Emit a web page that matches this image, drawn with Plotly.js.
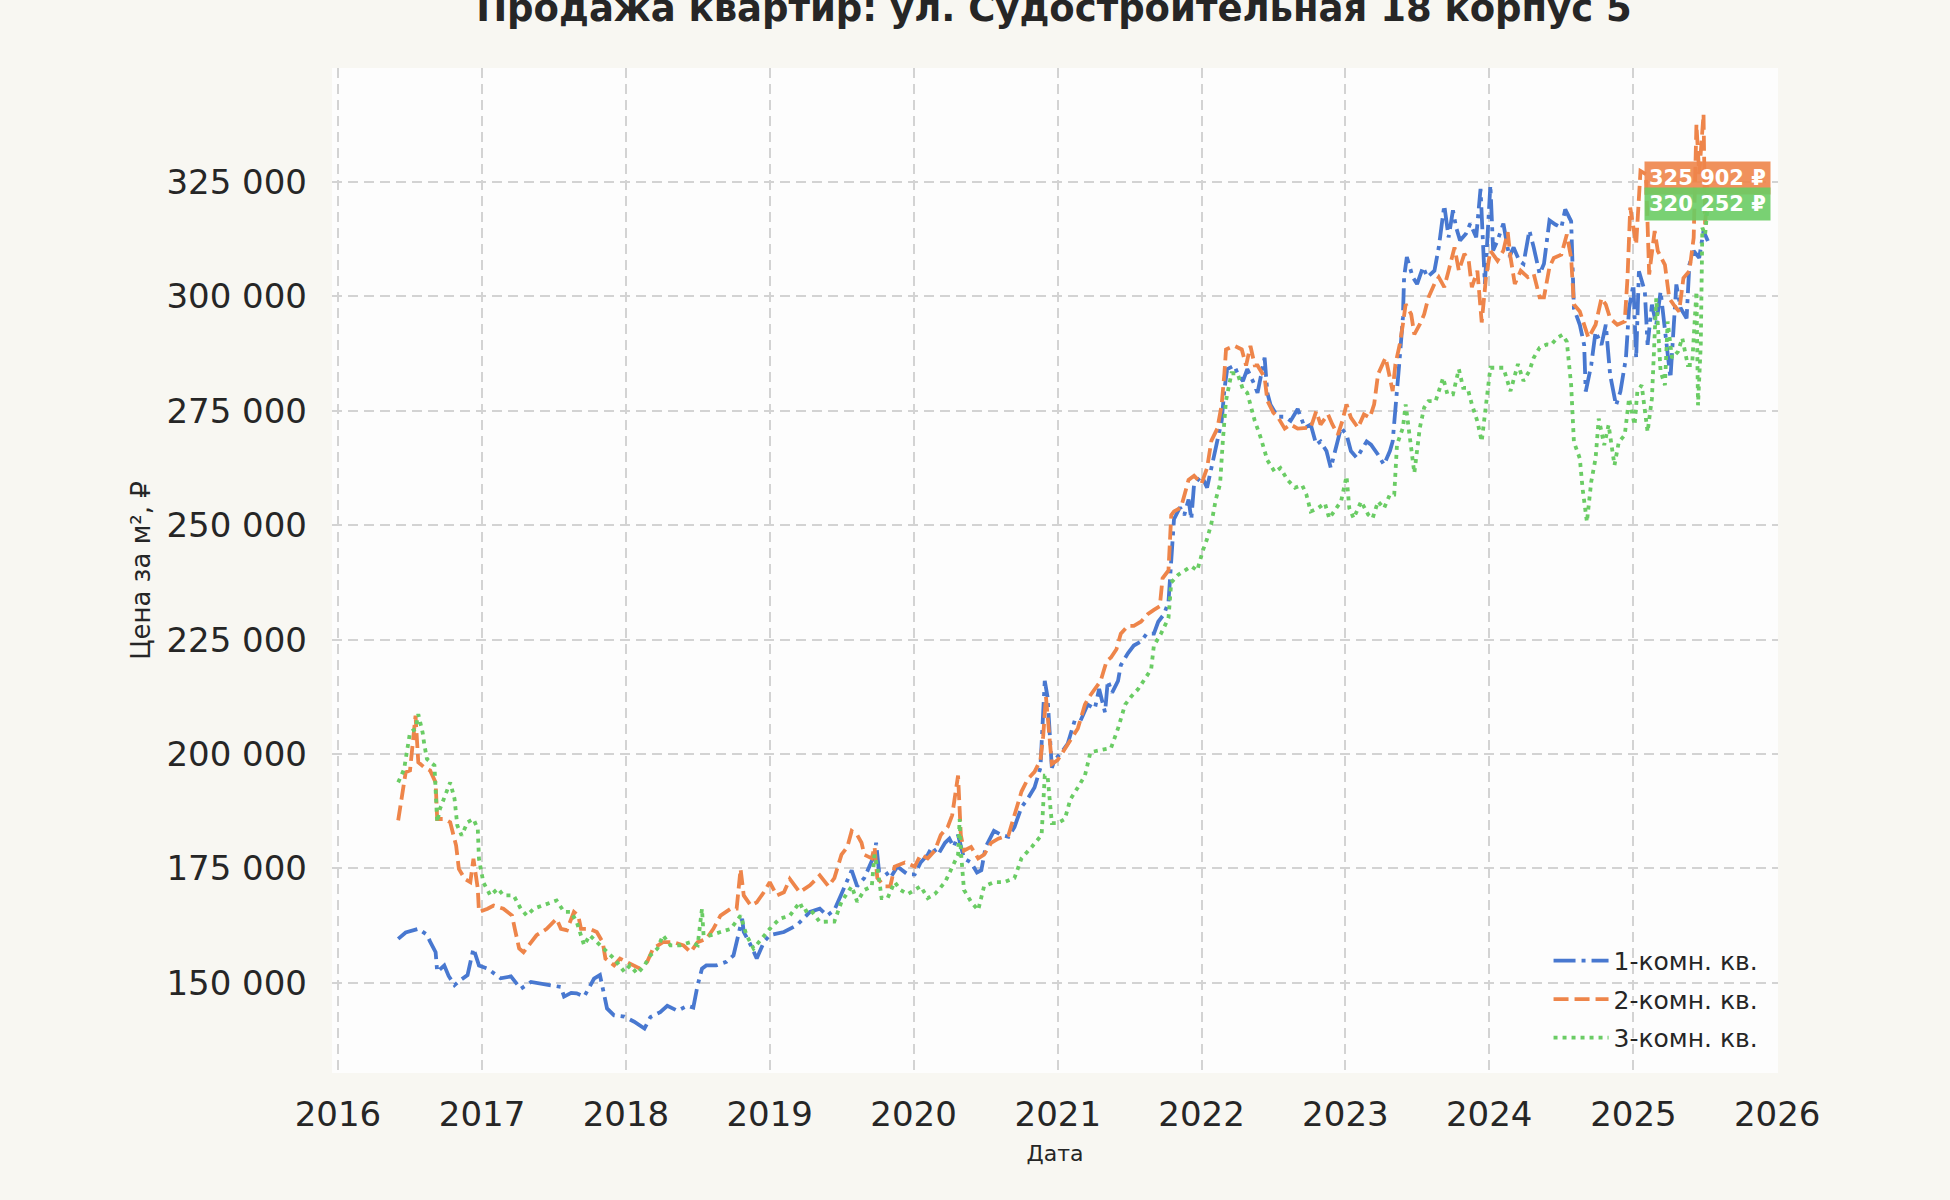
<!DOCTYPE html>
<html>
<head>
<meta charset="utf-8">
<script src="https://cdn.plot.ly/plotly-3.0.1.min.js"></script>
<style>
  html, body { margin: 0; padding: 0; background: #f8f7f2; }
  #chart { width: 1950px; height: 1200px; }
</style>
</head>
<body>
<div id="chart"></div>
<script>
// price per m2, decimal years
var years1 = [2016.42,2016.47,2016.56,2016.62,2016.64,2016.68,2016.69,2016.74,2016.77,2016.81,
  2016.85,2016.90,2016.94,2016.98,2017.04,2017.13,2017.20,2017.27,2017.34,2017.41,
  2017.48,2017.55,2017.57,2017.62,2017.66,2017.71,2017.78,2017.82,2017.85,2017.87,
  2017.92,2017.99,2018.06,2018.13,2018.17,2018.24,2018.29,2018.36,2018.43,2018.47,
  2018.50,2018.53,2018.56,2018.63,2018.70,2018.75,2018.81,2018.82,2018.87,2018.91,
  2018.96,2019.00,2019.10,2019.19,2019.28,2019.35,2019.40,
  2019.45,2019.50,2019.57,2019.61,2019.66,2019.73,2019.74,2019.76,2019.80,2019.84,
  2019.89,2019.96,2020.01,2020.05,2020.10,2020.13,2020.17,2020.22,2020.25,2020.28,
  2020.31,2020.35,2020.40,2020.44,2020.47,2020.50,2020.56,2020.61,2020.66,2020.70,
  2020.75,2020.79,2020.84,2020.88,2020.91,2020.93,2020.96,2020.98,2021.03,2021.07,
  2021.12,2021.16,2021.21,2021.26,2021.29,2021.33,2021.35,2021.38,2021.42,2021.44,
  2021.49,2021.53,2021.58,2021.62,2021.67,2021.70,2021.74,2021.77,2021.79,2021.81,
  2021.85,2021.88,2021.91,2021.93,2021.95,2022.00,2022.04,2022.09,2022.14,2022.16,
  2022.18,2022.23,2022.25,2022.29,2022.32,2022.37,2022.39,2022.44,2022.46,2022.48,
  2022.53,2022.58,2022.62,2022.67,
  2022.72,2022.76,2022.80,2022.83,2022.87,2022.90,2022.94,2022.97,2023.01,2023.04,
  2023.08,2023.11,2023.15,2023.18,2023.23,2023.27,2023.31,2023.33,2023.35,2023.38,
  2023.40,2023.41,2023.43,2023.47,2023.50,2023.54,2023.57,2023.62,2023.65,2023.69,
  2023.72,2023.75,2023.77,2023.80,2023.84,2023.87,2023.91,2023.94,2023.97,2023.99,
  2024.01,2024.03,2024.06,2024.10,2024.14,2024.17,2024.21,2024.24,2024.28,2024.31,
  2024.35,2024.38,2024.42,
  2024.46,2024.50,2024.53,2024.57,2024.59,2024.63,2024.66,2024.67,2024.71,2024.74,
  2024.78,2024.81,2024.84,2024.88,2024.91,2024.95,2024.97,2025.00,2025.02,2025.04,
  2025.08,2025.10,2025.13,2025.16,2025.19,2025.23,2025.26,2025.30,2025.33,2025.37,
  2025.39,2025.42,2025.46,2025.49,2025.52];
var price1 = [159600,161000,161800,160500,159000,156700,152400,153800,151500,149500,
  150600,151700,157500,153800,153100,151000,151400,148700,150200,149800,
  149500,149100,147000,147800,147700,147000,150900,151700,147300,144400,
  142900,142600,141500,140000,142500,143600,145000,143900,145000,144600,
  149500,153100,153800,153800,154600,156000,164000,161100,158200,155300,
  158900,160400,161100,162600,165500,166200,164700,
  165900,169400,174600,171100,172900,178000,180600,174600,174600,172900,
  175400,173700,173700,176300,178000,179700,178000,180600,181500,179700,
  182300,177200,176300,174100,174600,179700,183200,182300,181900,184000,
  188400,190100,192700,197000,216000,212500,197000,198700,200400,202200,
  207300,207300,210800,209900,214200,209100,216000,213400,216000,219400,
  222000,223700,224600,226300,226300,228900,230600,233200,241800,251300,
  253900,252200,255600,251300,259000,260800,258200,265100,272800,279700,
  284100,284900,283200,281500,284100,280600,278900,286600,278900,276300,
  273700,273700,272800,275400,
  271300,272000,267600,268300,266200,262500,267600,271300,269800,266200,
  264700,266200,268300,267600,265400,263200,266200,268300,276400,286600,
  295400,304200,308600,304200,302700,306400,304200,305600,310700,319900,
  312900,318800,315100,312200,313700,315900,312900,323500,302700,312900,
  324300,310000,312200,315900,308600,310700,307800,307100,314400,310700,
  304900,307100,316600,
  315700,315000,319000,316400,297400,293800,289400,279200,285000,292300,
  289400,293800,282800,276200,279200,286500,297400,302600,286500,305500,
  301100,289400,298200,293800,301100,290900,282100,302600,297400,295200,
  306900,309900,308400,314300,312100];

var years2 = [2016.42,2016.45,2016.47,2016.50,2016.54,2016.56,2016.60,2016.64,2016.68,2016.69,
  2016.74,2016.78,2016.82,2016.84,2016.88,2016.92,2016.94,2016.97,2016.98,2017.04,
  2017.08,2017.15,2017.21,2017.23,2017.26,2017.29,2017.34,2017.38,2017.45,2017.52,
  2017.55,2017.59,2017.64,2017.67,2017.69,2017.75,2017.80,2017.84,2017.86,2017.92,
  2017.96,2018.01,2018.06,2018.10,2018.15,2018.19,2018.26,2018.33,2018.40,2018.45,
  2018.50,2018.56,2018.61,2018.66,2018.73,2018.77,2018.80,2018.82,2018.87,2018.91,
  2018.96,2019.00,2019.05,2019.10,2019.14,2019.21,2019.28,2019.35,
  2019.41,2019.45,2019.50,2019.54,2019.57,2019.61,2019.64,2019.66,2019.71,2019.73,
  2019.75,2019.80,2019.84,2019.87,2019.94,2020.01,2020.05,2020.10,2020.15,2020.19,
  2020.24,2020.27,2020.31,2020.33,2020.35,2020.40,2020.45,2020.49,2020.54,2020.59,
  2020.66,2020.70,2020.75,2020.79,2020.84,2020.88,2020.90,2020.92,2020.94,2020.96,
  2021.00,2021.05,2021.09,2021.14,2021.19,2021.22,2021.26,2021.30,2021.34,2021.37,
  2021.41,2021.44,2021.49,2021.53,2021.58,2021.63,2021.67,2021.71,2021.73,2021.77,
  2021.79,2021.81,2021.86,2021.91,2021.95,2022.00,2022.04,2022.07,2022.11,2022.14,
  2022.16,2022.17,2022.23,2022.28,2022.31,2022.34,2022.37,2022.39,2022.44,2022.46,
  2022.50,2022.53,2022.58,2022.62,2022.67,
  2022.72,2022.76,2022.80,2022.83,2022.88,2022.91,2022.95,2022.98,2023.01,2023.04,
  2023.09,2023.13,2023.17,2023.20,2023.23,2023.26,2023.28,2023.31,2023.33,2023.35,
  2023.38,2023.40,2023.42,2023.46,2023.48,2023.52,2023.55,2023.58,2023.62,2023.65,
  2023.69,2023.72,2023.76,2023.79,2023.83,2023.86,2023.88,2023.92,2023.95,2023.98,
  2024.01,2024.06,2024.10,2024.13,2024.15,2024.18,2024.22,2024.27,2024.31,2024.35,
  2024.38,2024.42,
  2024.45,2024.50,2024.54,2024.57,2024.59,2024.63,2024.66,2024.69,2024.74,2024.78,
  2024.81,2024.84,2024.89,2024.94,2024.96,2024.98,2025.02,2025.05,2025.09,2025.11,
  2025.15,2025.17,2025.22,2025.25,2025.28,2025.32,2025.35,2025.39,2025.42,2025.44,
  2025.46,2025.49,2025.50,2025.52];
var price2 = [185500,192400,196000,196400,208400,198200,197100,196400,193800,185800,
  185800,185100,180000,174900,172700,172000,177100,170600,165500,166200,
  166900,166200,164700,161800,157500,156700,158900,160400,161800,164000,
  161800,161500,165500,164700,161800,161800,161100,158900,155300,153800,
  155300,154600,153800,153100,154600,157500,158900,158900,158200,156700,
  158900,159600,161800,164700,166200,166200,174900,169100,166900,167600,
  169800,172000,169100,169800,172700,169800,171300,173500,
  171100,172900,178000,179700,183200,182300,180600,178000,177200,179700,
  172900,171100,171100,175400,176300,175400,178000,177200,178900,182300,
  184100,186600,195300,182300,178900,179700,177200,178000,180600,181500,
  182300,186600,191800,194400,196100,198700,203900,212500,203900,197800,
  198700,201300,203000,205600,210800,212500,214200,216000,220300,221100,
  222900,226300,228000,228000,228900,230600,231500,232300,238400,240100,
  252200,253000,253900,259900,260800,259100,262500,268500,271100,276300,
  283200,288400,289200,288400,284900,289200,284900,284900,282300,277200,
  274600,273700,271100,272000,271100,
  271300,271300,274900,272000,274200,272000,269800,272700,276400,273500,
  271300,274200,273500,276400,283000,285200,286600,282200,279300,285200,
  289500,293900,298300,296100,291700,293900,296100,299800,302700,304200,
  302000,305600,310700,305600,309300,307800,302000,305600,294300,304200,
  310000,307800,310000,314000,308600,302700,305600,304200,304900,299800,
  299800,306400,
  308400,309100,313500,308400,298200,296700,293800,290900,293800,299600,
  298200,295200,293800,294500,304000,319400,311300,327400,326700,304800,
  314300,309900,306900,299600,298200,296700,304000,305500,312800,337600,
  326700,339800,315700,325902];

var years3 = [2016.42,2016.46,2016.50,2016.54,2016.56,2016.59,2016.60,2016.62,2016.67,2016.69,
  2016.71,2016.75,2016.78,2016.81,2016.83,2016.86,2016.90,2016.94,2016.97,2016.98,
  2017.01,2017.06,2017.11,2017.15,2017.22,2017.27,2017.31,2017.36,2017.43,2017.52,
  2017.57,2017.62,2017.66,2017.71,2017.75,2017.80,2017.85,2017.92,2017.99,2018.03,
  2018.08,2018.13,2018.17,2018.22,2018.26,2018.31,2018.38,2018.45,2018.50,2018.53,
  2018.54,2018.59,2018.66,2018.73,2018.80,2018.84,2018.89,2018.94,2019.00,2019.07,
  2019.14,2019.21,2019.24,2019.28,2019.35,
  2019.41,2019.45,2019.50,2019.57,2019.61,2019.66,2019.71,2019.73,2019.75,2019.78,
  2019.82,2019.87,2019.91,2019.96,2020.01,2020.05,2020.10,2020.15,2020.22,2020.26,
  2020.31,2020.32,2020.33,2020.35,2020.40,2020.45,2020.49,2020.56,2020.63,2020.70,
  2020.75,2020.82,2020.89,2020.91,2020.93,2020.96,2021.00,2021.05,2021.09,2021.14,
  2021.19,2021.23,2021.30,2021.37,2021.42,2021.47,2021.51,2021.56,2021.60,2021.65,
  2021.67,2021.72,2021.77,2021.79,2021.84,2021.88,2021.93,2021.97,2022.01,2022.04,
  2022.07,2022.10,2022.13,2022.15,2022.17,2022.21,2022.25,2022.29,2022.32,2022.37,
  2022.41,2022.46,2022.51,2022.55,2022.60,2022.65,
  2022.70,2022.73,2022.76,2022.81,2022.86,2022.89,2022.94,2022.97,2023.01,2023.03,
  2023.06,2023.11,2023.16,2023.19,2023.23,2023.27,2023.31,2023.34,2023.36,2023.40,
  2023.42,2023.46,2023.48,2023.52,2023.55,2023.58,2023.63,2023.68,2023.71,2023.75,
  2023.79,2023.82,2023.85,2023.88,2023.92,2023.95,2023.98,2024.01,2024.06,2024.10,
  2024.15,2024.20,2024.24,2024.28,2024.31,2024.35,2024.40,
  2024.43,2024.47,2024.51,2024.54,2024.57,2024.59,2024.63,2024.65,2024.68,2024.71,
  2024.74,2024.76,2024.80,2024.83,2024.87,2024.90,2024.94,2024.97,2025.01,2025.03,
  2025.06,2025.10,2025.13,2025.16,2025.19,2025.22,2025.24,2025.27,2025.31,2025.34,
  2025.38,2025.41,2025.44,2025.45,2025.47,2025.48,2025.50,2025.52];
var price3 = [193800,196700,204700,205500,208700,204700,202200,198900,197500,185100,
  188000,191600,193800,190200,184400,182200,185100,185800,183600,177100,
  172000,169100,170600,169100,169100,166200,164700,166200,166900,168000,
  165500,165500,163300,158200,160400,158900,157500,155300,152400,153800,
  152000,153800,156000,157500,160400,158200,158200,158900,158200,166200,
  160400,160400,161100,161800,164700,160400,157500,159600,161800,164000,
  164700,167600,165500,166200,163300,
  163400,163400,167700,171100,167700,170300,171100,178000,175400,168500,
  168500,172000,170300,169400,170300,171100,168500,169400,172000,174600,
  178000,185800,178900,170300,167700,165900,171100,172000,172000,172900,
  177200,179700,182300,195300,195300,184900,184900,185800,190100,192700,
  195300,200400,200900,201300,205600,210800,212500,214200,216000,218500,
  223700,226300,229700,237500,239200,240100,241000,240100,244400,247000,
  250400,255600,259000,268500,277200,283200,283200,279700,278900,272800,
  269400,264200,261600,262500,259900,258200,
  258800,256700,253000,253700,254800,251500,253700,255200,260700,253700,
  251500,255200,252300,251500,255200,253700,256700,256700,267600,271300,
  276400,266900,261400,271300,275700,277100,277100,282200,278600,278600,
  284100,280000,280000,276400,272700,268300,276400,284400,284400,284400,
  279300,285200,281500,283700,286600,288800,289500,
  289400,290900,291600,290100,280600,268200,264600,258000,250700,259500,
  264600,273300,267500,271900,263100,268200,269700,277700,271900,279200,
  280600,270400,277700,299600,283600,280600,294500,286500,287900,290900,
  285000,285000,301100,276200,289400,315000,313500,320252];

var seriesNames = ['1-комн. кв.', '2-комн. кв.', '3-комн. кв.'];
var seriesColors = ['#4878d0', '#ee854a', '#6acc64'];
var labelFills = ['rgba(72,120,208,0.9)', 'rgba(238,133,74,0.9)', 'rgba(106,204,100,0.9)'];

function toDate(y) {
  var yr = Math.floor(y);
  var a = Date.UTC(yr, 0, 1), b = Date.UTC(yr + 1, 0, 1);
  return new Date(a + (y - yr) * (b - a)).toISOString().slice(0, 10);
}

function rub(v) {
  return String(Math.round(v)).replace(/\B(?=(\d{3})+(?!\d))/g, ' ') + ' ₽';
}

var allYears = [years1, years2, years3];
var allPrices = [price1, price2, price3];
var dashes = ['22px,6px,4px,6px', '15px,6px', '4px,5px'];

var data = allYears.map(function (yrs, i) {
  return {
    type: 'scatter',
    mode: 'lines',
    name: seriesNames[i],
    legendgroup: 'g' + i,
    x: yrs.map(toDate),
    y: allPrices[i],
    line: {color: seriesColors[i], width: 3.8, dash: dashes[i]},
    hoverinfo: 'skip'
  };
});

// last-value badges for 2- and 3-room series
var annotations = [1, 2].map(function (i) {
  var yrs = allYears[i], pr = allPrices[i];
  var last = pr[pr.length - 1];
  return {
    x: toDate(yrs[yrs.length - 1]),
    y: last,
    xref: 'x', yref: 'y',
    text: '<b>' + rub(last) + '</b>',
    showarrow: false,
    font: {family: 'DejaVu Sans', size: 21, color: 'white'},
    bgcolor: labelFills[i],
    borderpad: 4,
    xanchor: 'center',
    yanchor: 'middle'
  };
});

var gridStyle = {
  showgrid: true,
  gridcolor: '#d3d3d3',
  gridwidth: 2,
  griddash: '10px,6px',
  zeroline: false,
  showline: false,
  ticks: '',
  tickfont: {family: 'DejaVu Sans', size: 34, color: '#262626'}
};

var layout = {
  width: 1950,
  height: 1200,
  paper_bgcolor: '#f8f7f2',
  plot_bgcolor: '#fdfdfd',
  separators: ', ',
  margin: {l: 332, r: 172, t: 68, b: 127},
  title: {
    text: '<b>Продажа квартир: ул. Судостроительная 18 корпус 5</b>',
    font: {family: 'DejaVu Sans', size: 37, color: '#262626'},
    x: 0.5405, xanchor: 'center',
    y: 0.993, yanchor: 'middle', yref: 'container'
  },
  xaxis: Object.assign({}, gridStyle, {
    type: 'date',
    range: ['2015-12-17', '2026-01-03'],
    tick0: '2016-01-01',
    dtick: 'M12',
    tickformat: '%Y',
    ticklabelstandoff: 18,
    title: {text: 'Дата', font: {family: 'DejaVu Sans', size: 22, color: '#262626'}, standoff: 12}
  }),
  yaxis: Object.assign({}, gridStyle, {
    range: [130300, 349900],
    tick0: 150000,
    dtick: 25000,
    tickformat: ',d',
    ticklabelstandoff: 24,
    title: {text: 'Цена за м², ₽', font: {family: 'DejaVu Sans', size: 26, color: '#262626'}, standoff: 8}
  }),
  legend: {
    x: 0.99, xanchor: 'right',
    y: 0.012, yanchor: 'bottom',
    bgcolor: 'rgba(0,0,0,0)',
    font: {family: 'DejaVu Sans', size: 25, color: '#262626'},
    itemwidth: 55,
    tracegroupgap: 3
  },
  annotations: annotations,
  hovermode: false
};

Plotly.newPlot('chart', data, layout, {displayModeBar: false, staticPlot: true});
</script>
</body>
</html>
